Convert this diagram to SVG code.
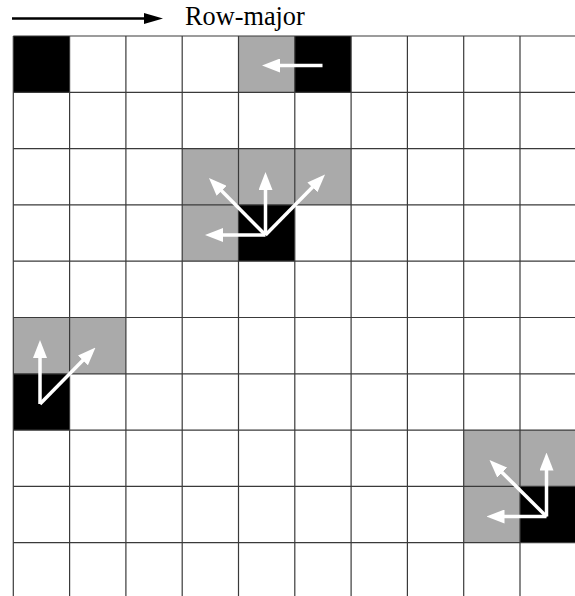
<svg xmlns="http://www.w3.org/2000/svg" width="575" height="596" viewBox="0 0 575 596">
  <defs>
    <marker id="wh" markerUnits="userSpaceOnUse" markerWidth="18" markerHeight="14" viewBox="0 0 18 14" refX="6" refY="7" orient="auto">
      <path d="M0,0 L18,7 L0,14 z" fill="#fff"/>
    </marker>
  </defs>
  <style>
    .blk { fill: #000; }
    .gry { fill: #aaaaaa; }
    .grid line { stroke: #3a3a3a; stroke-width: 1.2; }
    .arr { stroke: #fff; stroke-width: 3.5; fill: none; marker-end: url(#wh); }
    .lbl { font-family: "Liberation Serif", "Times New Roman", serif; font-size: 26.3px; fill: #000; }
  </style>
  <rect width="575" height="596" fill="#fff"/>

  <g id="header">
    <line x1="12" y1="18.5" x2="148" y2="18.5" stroke="#000" stroke-width="2.5"/>
    <path d="M144,13 L163,18.5 L144,24 z" fill="#000"/>
    <text class="lbl" x="185" y="25">Row-major</text>
  </g>

  <g id="cells">
    <rect class="blk" x="13.3" y="36" width="56.3" height="56.3"/>
    <rect class="gry" x="238.5" y="36" width="56.3" height="56.3"/>
    <rect class="blk" x="294.8" y="36" width="56.3" height="56.3"/>

    <rect class="gry" x="182.2" y="148.6" width="168.9" height="56.3"/>
    <rect class="gry" x="182.2" y="204.9" width="56.3" height="56.3"/>
    <rect class="blk" x="238.5" y="204.9" width="56.3" height="56.3"/>

    <rect class="gry" x="13.3" y="317.5" width="112.6" height="56.3"/>
    <rect class="blk" x="13.3" y="373.8" width="56.3" height="56.3"/>

    <rect class="gry" x="463.7" y="430.1" width="112.6" height="56.3"/>
    <rect class="gry" x="463.7" y="486.4" width="56.3" height="56.3"/>
    <rect class="blk" x="520" y="486.4" width="56.3" height="56.3"/>
  </g>

  <g id="grid" class="grid">
    <line x1="13.3" y1="36" x2="13.3" y2="600"/>
    <line x1="69.6" y1="36" x2="69.6" y2="600"/>
    <line x1="125.9" y1="36" x2="125.9" y2="600"/>
    <line x1="182.2" y1="36" x2="182.2" y2="600"/>
    <line x1="238.5" y1="36" x2="238.5" y2="600"/>
    <line x1="294.8" y1="36" x2="294.8" y2="600"/>
    <line x1="351.1" y1="36" x2="351.1" y2="600"/>
    <line x1="407.4" y1="36" x2="407.4" y2="600"/>
    <line x1="463.7" y1="36" x2="463.7" y2="600"/>
    <line x1="520" y1="36" x2="520" y2="600"/>
    <line x1="13.3" y1="36" x2="580" y2="36"/>
    <line x1="13.3" y1="92.3" x2="580" y2="92.3"/>
    <line x1="13.3" y1="148.6" x2="580" y2="148.6"/>
    <line x1="13.3" y1="204.9" x2="580" y2="204.9"/>
    <line x1="13.3" y1="261.2" x2="580" y2="261.2"/>
    <line x1="13.3" y1="317.5" x2="580" y2="317.5"/>
    <line x1="13.3" y1="373.8" x2="580" y2="373.8"/>
    <line x1="13.3" y1="430.1" x2="580" y2="430.1"/>
    <line x1="13.3" y1="486.4" x2="580" y2="486.4"/>
    <line x1="13.3" y1="542.7" x2="580" y2="542.7"/>
  </g>

  <g id="connectors">
    <line class="arr" x1="322.5" y1="65.5" x2="274" y2="65.5"/>

    <line class="arr" x1="265.5" y1="235" x2="217" y2="235"/>
    <line class="arr" x1="265.5" y1="235" x2="265.5" y2="184"/>
    <line class="arr" x1="265.5" y1="235" x2="217.4" y2="186.5"/>
    <line class="arr" x1="265.5" y1="235" x2="316.6" y2="183.1"/>

    <line class="arr" x1="40" y1="404" x2="40" y2="352"/>
    <line class="arr" x1="40" y1="404" x2="87.1" y2="356.1"/>

    <line class="arr" x1="546.5" y1="516.5" x2="546.5" y2="464.5"/>
    <line class="arr" x1="546.5" y1="516.5" x2="498.5" y2="516.5"/>
    <line class="arr" x1="546.5" y1="516.5" x2="498" y2="468.4"/>
  </g>
</svg>
